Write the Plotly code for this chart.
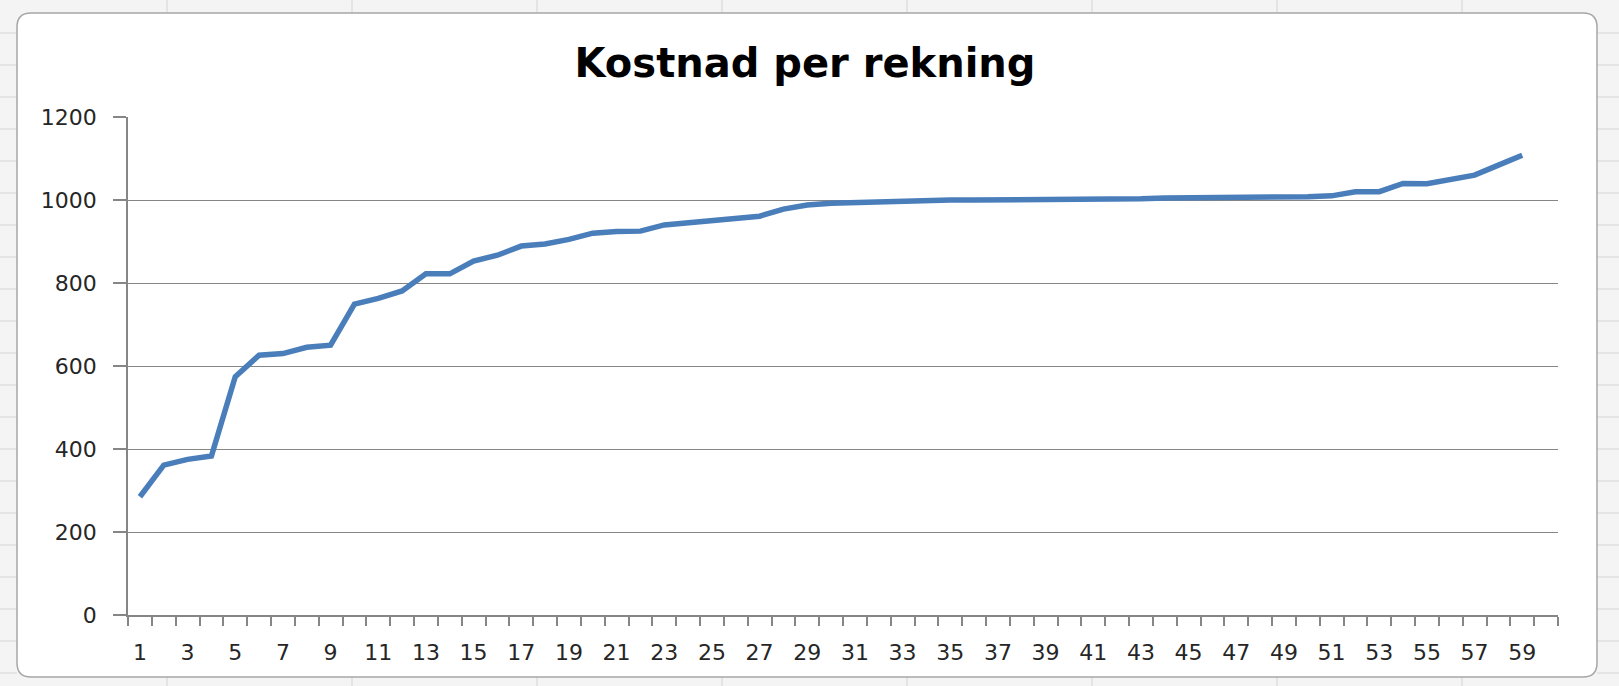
import plotly.graph_objects as go

# ---------------- data ----------------
chart_title = "Kostnad per rekning"
invoice_no = list(range(1, 60))
cost = [
    285, 361, 375, 383, 574, 626, 630, 645, 650, 749,
    763, 781, 822, 822, 853, 867, 889, 894, 905, 920,
    924, 925, 940, 945, 952, 958, 961, 978, 988, 992,
    994, 995, 996, 1000, 1000, 1000, 1000, 1000, 1000, 1000,
    1000, 1000, 1003, 1005, 1005, 1005, 1005, 1005, 1007, 1008,
    1010, 1020, 1020, 1040, 1039, 1050, 1060, 1084, 1108,
]
x_tick_vals = list(range(1, 60, 2))
y_tick_vals = [0, 200, 400, 600, 800, 1000, 1200]

# ---------------- geometry ----------------
W, H = 1619, 686
PL, PR, PT, PB = 128, 1558, 117, 615  # plot area in pixels


def px(x):
    return (x - PL) / (PR - PL)


def py(y):
    return (PB - y) / (PB - PT)


AXIS_GREY = "#868686"
FONT = "DejaVu Sans"

fig = go.Figure()
fig.add_trace(go.Scatter(
    x=invoice_no, y=cost, mode="lines",
    line=dict(color="#4a7ebb", width=5.5),
    hoverinfo="x+y", showlegend=False,
))

# Excel-like chart area: rounded white rectangle
x0, x1, y0, y1, r = 17, 1597, 13, 677, 14
rx, ry = r / (PR - PL), r / (PB - PT)
X0, X1, Y0, Y1 = px(x0), px(x1), py(y1), py(y0)
path = (
    f"M {X0+rx},{Y1} L {X1-rx},{Y1} Q {X1},{Y1} {X1},{Y1-ry} "
    f"L {X1},{Y0+ry} Q {X1},{Y0} {X1-rx},{Y0} "
    f"L {X0+rx},{Y0} Q {X0},{Y0} {X0},{Y0+ry} "
    f"L {X0},{Y1-ry} Q {X0},{Y1} {X0+rx},{Y1} Z"
)
shapes = []
# spreadsheet cell lines outside the chart
for cx in [167, 352, 537, 722, 907, 1092, 1277, 1462]:
    shapes.append(dict(type="line", xref="paper", yref="paper",
                       x0=px(cx), x1=px(cx), y0=py(0), y1=py(13),
                       line=dict(color="#d4d4d4", width=1), layer="below"))
    shapes.append(dict(type="line", xref="paper", yref="paper",
                       x0=px(cx), x1=px(cx), y0=py(677), y1=py(686),
                       line=dict(color="#d4d4d4", width=1), layer="below"))
for ry_ in range(33, 686, 32):
    shapes.append(dict(type="line", xref="paper", yref="paper",
                       x0=px(0), x1=px(17), y0=py(ry_), y1=py(ry_),
                       line=dict(color="#d4d4d4", width=1), layer="below"))
    shapes.append(dict(type="line", xref="paper", yref="paper",
                       x0=px(1597), x1=px(1619), y0=py(ry_), y1=py(ry_),
                       line=dict(color="#d4d4d4", width=1), layer="below"))
shapes.append(dict(type="path", xref="paper", yref="paper", path=path,
                   fillcolor="white", line=dict(color="#a6a6a6", width=1.5),
                   layer="below"))

fig.update_layout(
    width=W, height=H,
    margin=dict(l=PL, r=W - PR, t=PT, b=H - PB, pad=0),
    paper_bgcolor="#f4f4f4",
    plot_bgcolor="rgba(0,0,0,0)",
    shapes=shapes,
    title=dict(
        text=f"<b>{chart_title}</b>",
        x=805 / W, xanchor="center",
        y=1 - 63 / H, yanchor="middle", yref="container",
        font=dict(family=FONT, size=40, color="#000000"),
    ),
    xaxis=dict(
        range=[0.5, 60.5], tickmode="array", tickvals=x_tick_vals,
        ticktext=[str(v) for v in x_tick_vals],
        ticks="", showgrid=False, zeroline=False,
        showline=True, linecolor=AXIS_GREY, linewidth=1.5,
        tickfont=dict(family=FONT, size=22, color="#262626"),
        ticklabelstandoff=17,
        minor=dict(ticks="outside", tick0=0.5, dtick=1, ticklen=9,
                   tickcolor=AXIS_GREY, tickwidth=1.5, showgrid=False),
    ),
    yaxis=dict(
        range=[0, 1200], tickmode="array", tickvals=y_tick_vals,
        ticks="outside", ticklen=13, tickcolor=AXIS_GREY, tickwidth=1.5,
        showgrid=True, gridcolor=AXIS_GREY, gridwidth=1.2,
        zeroline=False, showline=True, linecolor=AXIS_GREY, linewidth=1.5,
        tickfont=dict(family=FONT, size=22, color="#262626"),
        ticklabelstandoff=12,
    ),
)

fig.write_html(
    "out.html",
    config={"displayModeBar": False},
    post_script="document.body.style.margin='0px';document.body.style.overflow='hidden';",
)
